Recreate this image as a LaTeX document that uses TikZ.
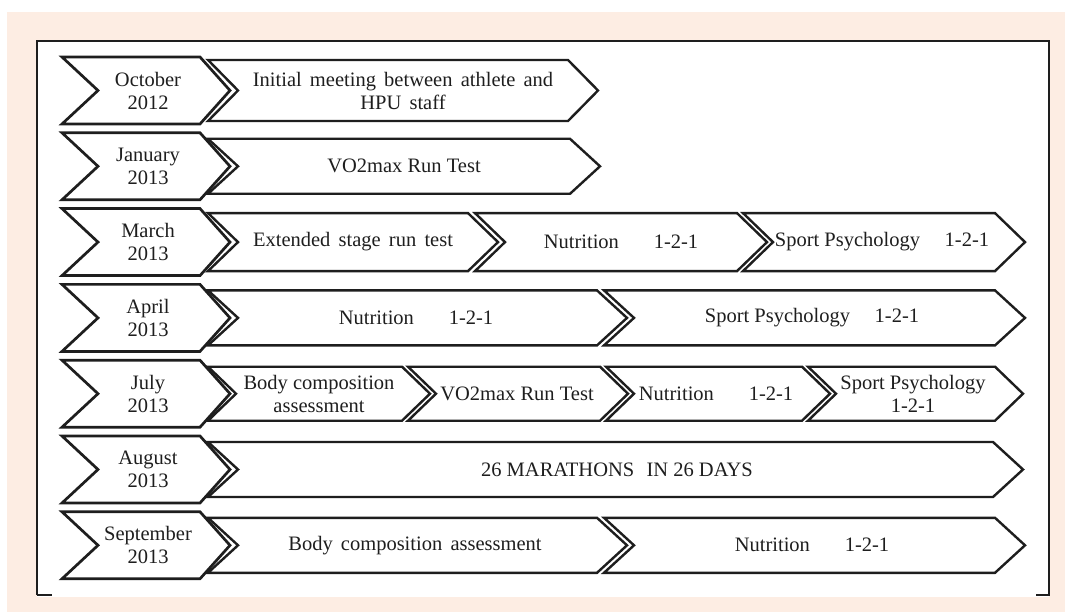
\documentclass[tikz,border=0pt]{standalone}
\usepackage{fontspec}
\setmainfont{Liberation Serif}
\definecolor{peach}{HTML}{FDEDE3}
\definecolor{ink}{HTML}{1E1E1E}
\newcommand\widesp{\spaceskip 0.4em\relax}
\tikzset{
  chev/.style={draw=ink, line width=2.4pt, fill=white, line join=miter},
  datechev/.style={chev, line width=2.7pt},
  lbl/.style={align=center, font=\fontsize{20.5}{23}\selectfont, inner sep=0pt, text=ink},
  wide/.style={execute at begin node=\widesp},
}
% #1 style, #2 left x, #3 top-right x, #4 centre y, #5 half height, #6 tip depth, #7 notch depth
\newcommand\mychev[7]{\draw[#1] (#2,{#4-#5}) -- (#3,{#4-#5}) -- ({#3+#6},#4) -- (#3,{#4+#5}) -- (#2,{#4+#5}) -- ({#2+#7},#4) -- cycle;}
\newcommand\gap{\hspace{1.7em}}
\begin{document}
\begin{tikzpicture}[x=1pt,y=-1pt]
\useasboundingbox (0,0) rectangle (1065,612);
% background and frame
\fill[white] (0,0) rectangle (1065,612);
\fill[peach] (7,12) rectangle (1065,612);
\fill[white] (37,41) rectangle (1049,597);
\draw[ink, line width=1.2pt] (37,595) -- (37,41) -- (1049,41);
\draw[ink, line width=2pt] (1036,41) -- (1049,41) -- (1049,595) -- (1036,595);
\draw[ink, line width=2pt] (37,41) -- (52,41);
\draw[ink, line width=2pt] (37,595) -- (52,595);

% date chevrons
\foreach \cy in {90.5,166.3,242.1,317.9,393.7,469.5,545.3}{
  \mychev{datechev}{62}{200}{\cy}{33.5}{30}{36}
}
% event chevrons
% row 1
\mychev{chev}{208}{568}{90.5}{30.5}{30}{30}
% row 2
\mychev{chev}{208}{570}{166.3}{27.5}{30}{30}
% row 3
\mychev{chev}{208}{468}{242.1}{29}{30}{30}
\mychev{chev}{475}{737}{242.1}{29}{30}{30}
\mychev{chev}{743}{995}{242.1}{29}{30}{30}
% row 4
\mychev{chev}{208}{597}{317.9}{27.5}{30}{30}
\mychev{chev}{604}{995}{317.9}{27.5}{30}{30}
% row 5
\mychev{chev}{208}{402}{393.7}{27}{28}{28}
\mychev{chev}{408}{600}{393.7}{27}{28}{28}
\mychev{chev}{606}{802}{393.7}{27}{28}{28}
\mychev{chev}{808}{995}{393.7}{27}{28}{28}
% row 6
\mychev{chev}{208}{993}{469.5}{27.5}{30}{30}
% row 7
\mychev{chev}{208}{597}{545.3}{27.5}{30}{30}
\mychev{chev}{604}{995}{545.3}{27.5}{30}{30}

% date labels
\node[lbl] (d1) at (148,90.5) {October\\2012};
\node[lbl] (d2) at (148,166.3) {January\\2013};
\node[lbl] (d3) at (148,242.1) {March\\2013};
\node[lbl] (d4) at (148,317.9) {April\\2013};
\node[lbl] (d5) at (148,393.7) {July\\2013};
\node[lbl] (d6) at (148,469.5) {August\\2013};
\node[lbl] (d7) at (148,545.3) {September\\2013};

% event labels
\node[lbl,wide] (e11) at (403,90.5) {Initial meeting between athlete and\\HPU staff};
\node[lbl] (e21) at (404,166.3) {VO2max Run Test};
\node[lbl,wide] (e31) at (353,242.1) {Extended stage run test};
\node[lbl] (e32) at (621,242.1) {Nutrition\gap 1-2-1};
\node[lbl] (e33) at (882,242.1) {Sport Psychology\hspace{1.2em}1-2-1};
\node[lbl] (e41) at (416,317.9) {Nutrition\gap 1-2-1};
\node[lbl] (e42) at (812,317.9) {Sport Psychology\hspace{1.2em}1-2-1};
\node[lbl] (e51) at (319,393.7) {Body composition\\assessment};
\node[lbl] (e52) at (517,393.7) {VO2max Run Test};
\node[lbl] (e53) at (716,393.7) {Nutrition\gap 1-2-1};
\node[lbl] (e54) at (913,393.7) {Sport Psychology\\1-2-1};
\node[lbl] (e61) at (617,469.5) {26 MARATHONS\hspace{0.6em}IN 26 DAYS};
\node[lbl,wide] (e71) at (415,545.3) {Body composition assessment};
\node[lbl] (e72) at (812,545.3) {Nutrition\gap 1-2-1};
\end{tikzpicture}
\end{document}
